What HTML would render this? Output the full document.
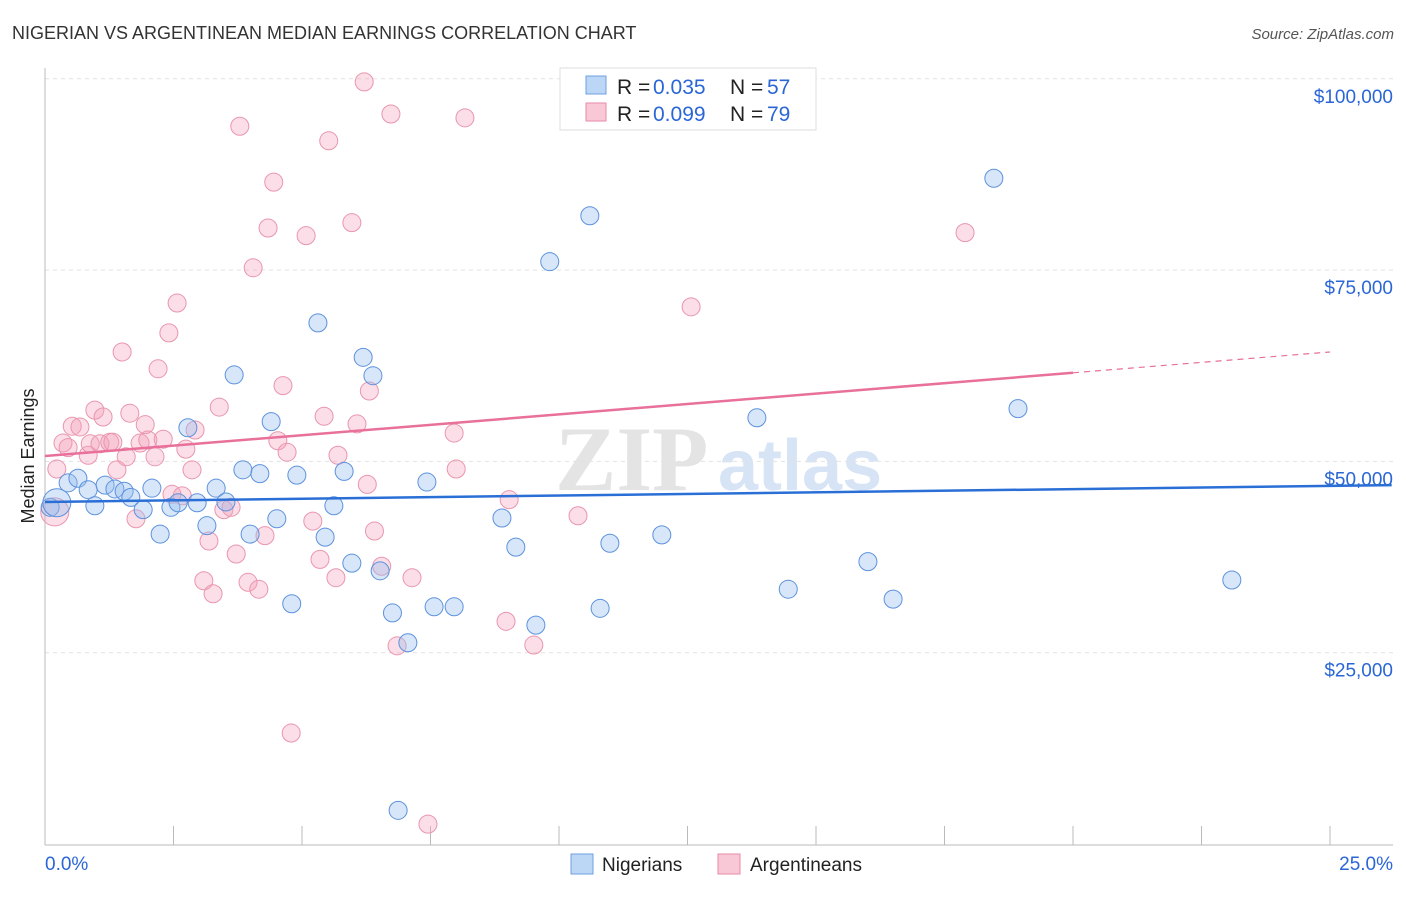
<!DOCTYPE html>
<html><head><meta charset="utf-8"><style>
body{margin:0;background:#fff;font-family:"Liberation Sans",sans-serif;}
</style></head><body>
<svg id="c" width="1406" height="892" xmlns="http://www.w3.org/2000/svg">
<text x="12" y="39" font-size="18" fill="#333">NIGERIAN VS ARGENTINEAN MEDIAN EARNINGS CORRELATION CHART</text>
<text x="1394" y="39" font-size="15" fill="#555" font-style="italic" text-anchor="end">Source: ZipAtlas.com</text>
<text x="34" y="456" font-size="18" fill="#222" text-anchor="middle" transform="rotate(-90 34 456)">Median Earnings</text>
<g><text x="555" y="490" font-size="92" fill="#e4e4e4" font-family="Liberation Serif" font-weight="bold">ZIP</text><text x="718" y="490" font-size="72" fill="#d6e4f5" font-weight="bold">atlas</text></g>
<g id="grid"></g><g id="axes"></g><g id="pts"></g><g id="lines"></g>
<g>
<rect x="560" y="68" width="256" height="62" fill="#fff" stroke="#ddd"/>
<rect x="586" y="76" width="20" height="18" fill="#bcd6f5" stroke="#6fa0e0"/>
<text x="617" y="94" font-size="21" fill="#222">R =</text><text x="653" y="94" font-size="21" fill="#2a66d6">0.035</text>
<text x="730" y="94" font-size="21" fill="#222">N =</text><text x="767" y="94" font-size="21" fill="#2a66d6">57</text>
<rect x="586" y="103" width="20" height="18" fill="#f8c8d6" stroke="#e88aa6"/>
<text x="617" y="121" font-size="21" fill="#222">R =</text><text x="653" y="121" font-size="21" fill="#2a66d6">0.099</text>
<text x="730" y="121" font-size="21" fill="#222">N =</text><text x="767" y="121" font-size="21" fill="#2a66d6">79</text>
</g>
<g>
<rect x="571" y="854" width="22" height="20" fill="#bcd6f5" stroke="#6fa0e0"/>
<text x="602" y="871" font-size="19" fill="#222">Nigerians</text>
<rect x="718" y="854" width="22" height="20" fill="#f8c8d6" stroke="#e88aa6"/>
<text x="750" y="871" font-size="19" fill="#222">Argentineans</text>
</g>
</svg>
<script>
const yTicks=[25000,50000,75000,100000];
const yTickLabels=["$25,000","$50,000","$75,000","$100,000"];
const xLabels=["0.0%","25.0%"];
const blueX=[0.1,0.23,0.45,0.64,0.84,0.97,1.17,1.36,1.54,1.67,1.91,2.08,2.24,2.45,2.59,2.78,2.96,3.15,3.33,3.52,3.68,3.85,3.99,4.18,4.40,4.51,4.80,4.90,5.31,5.45,5.62,5.82,5.97,6.19,6.38,6.52,6.76,6.87,7.06,7.43,7.57,7.96,8.89,9.16,9.55,9.82,10.60,10.80,10.99,12.00,13.85,14.46,16.01,16.50,18.46,18.93,23.09];
const blueY=[44.0,44.6,47.2,47.8,46.3,44.2,46.9,46.4,46.1,45.3,43.7,46.5,40.5,44.0,44.6,54.4,44.6,41.6,46.5,44.7,61.3,48.9,40.5,48.4,55.2,42.5,31.4,48.2,68.1,40.1,44.2,48.7,36.7,63.6,61.2,35.7,30.2,4.4,26.3,47.3,31.0,31.0,42.6,38.8,28.6,76.1,82.1,30.8,39.3,40.4,55.7,33.3,36.9,32.0,87.0,56.9,34.5];
const pinkX=[0.19,0.23,0.35,0.45,0.53,0.68,0.84,0.88,0.97,1.13,1.07,1.26,1.32,1.40,1.50,1.58,1.65,1.77,1.85,1.95,2.00,2.14,2.20,2.30,2.41,2.47,2.57,2.67,2.74,2.86,2.92,3.09,3.19,3.27,3.39,3.48,3.62,3.72,3.79,3.95,4.05,4.16,4.28,4.34,4.45,4.53,4.63,4.71,4.79,5.08,5.21,5.35,5.43,5.52,5.66,5.70,5.97,6.07,6.21,6.27,6.31,6.41,6.55,6.73,6.85,7.14,7.45,7.96,8.00,8.17,8.97,9.03,9.51,10.37,12.57,17.90];
const pinkY=[43.4,49.0,52.4,51.8,54.6,54.5,50.8,52.3,56.7,55.8,52.3,52.5,52.5,48.9,64.3,50.6,56.3,42.5,52.4,54.8,52.8,50.6,62.1,52.9,66.8,45.7,70.7,45.5,51.6,48.9,54.1,34.4,39.6,32.7,57.1,43.7,44.0,37.9,93.8,34.2,75.3,33.3,40.3,80.5,86.5,52.7,59.9,51.2,14.5,79.5,42.2,37.2,55.9,91.9,34.8,50.8,81.2,54.9,99.6,47.0,59.2,40.9,36.3,95.4,25.9,34.8,2.6,53.7,49.0,94.9,29.1,45.0,26.0,42.9,70.2,79.9];
const blueFit=[44.7,46.9], pinkFit=[50.7,64.3];
const X=v=>45+v*51.4, Y=v=>844-v*191.3/25;
const NS="http://www.w3.org/2000/svg";
function mk(p,t,a){const e=document.createElementNS(NS,t);for(const k in a)e.setAttribute(k,a[k]);document.getElementById(p).appendChild(e);return e;}
yTicks.forEach((t,i)=>{
 const l=mk('grid','line',{x1:45,x2:1393,y1:Y(t/1000),y2:Y(t/1000),stroke:'#e2e2e2','stroke-dasharray':'4,4'});
 
 
 const tx=mk('grid','text',{x:1393,y:Y(t/1000)+24,'font-size':19,fill:'#2a66d6','text-anchor':'end'});
 tx.textContent=yTickLabels[i];
 
 
});
const ax=mk('axes','line',{x1:45,x2:1393,y1:845,y2:845,stroke:'#bbb'});


const ay=mk('axes','line',{x1:45,x2:45,y1:68,y2:845,stroke:'#bbb'});


for(let i=1;i<=10;i++){mk('axes','line',{x1:X(i*2.5),x2:X(i*2.5),y1:826,y2:845,stroke:'#bbb'});}
const xl0=mk('axes','text',{x:45,y:870,'font-size':19,fill:'#2a66d6'});xl0.textContent=xLabels[0];


const xl1=mk('axes','text',{x:1393,y:870,'font-size':19,fill:'#2a66d6','text-anchor':'end'});xl1.textContent=xLabels[1];


pinkX.forEach((x,i)=>{const c=mk('pts','circle',{cx:X(x),cy:Y(pinkY[i]),r:i==0?14:9,fill:'rgba(244,160,185,0.35)',stroke:'#e996ae','stroke-width':1});
 
 });
blueX.forEach((x,i)=>{const c=mk('pts','circle',{cx:X(x),cy:Y(blueY[i]),r:i==1?14:9,fill:'rgba(150,190,240,0.38)',stroke:'#5d92dd','stroke-width':1});
 
 });
const bl=mk('lines','line',{x1:X(0),y1:Y(blueFit[0]),x2:X(26.2),y2:Y(blueFit[1]),stroke:'#2a6fd6','stroke-width':2.5});


const pe=pinkFit[0]+(pinkFit[1]-pinkFit[0])*20/25;
const pl=mk('lines','line',{x1:X(0),y1:Y(pinkFit[0]),x2:X(20),y2:Y(pe),stroke:'#e8709a','stroke-width':2.5});


const pd=mk('lines','line',{x1:X(20),y1:Y(pe),x2:X(25),y2:Y(pinkFit[1]),stroke:'#e8709a','stroke-width':1.2,'stroke-dasharray':'6,5'});


</script>
</body></html>
